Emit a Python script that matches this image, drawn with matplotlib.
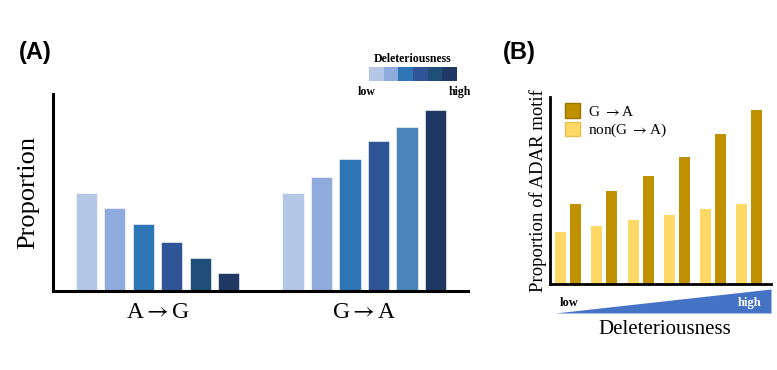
import matplotlib
matplotlib.use('Agg')
import matplotlib.pyplot as plt
import numpy as np
from matplotlib.patches import Patch

plt.rcParams['mathtext.fontset'] = 'stix'

# ---- data ----
groups_a = [r'A$\rightarrow$G', r'G$\rightarrow$A']
ag_vals = [0.50, 0.42, 0.34, 0.25, 0.17, 0.09]
ga_vals = [0.50, 0.58, 0.67, 0.76, 0.83, 0.92]
ag_colors = ['#b4c7e7', '#8faadc', '#2e75b6', '#2f5597', '#1f4e79', '#203864']
ga_colors = ['#b4c7e7', '#8faadc', '#2e75b6', '#2f5597', '#4a84b8', '#203864']
scale_colors = ['#b4c7e7', '#8faadc', '#2e75b6', '#2f5597', '#1f4e79', '#203864']

b_levels = [0, 1, 2, 3, 4, 5]
b_ga = [0.43, 0.50, 0.58, 0.68, 0.80, 0.93]
b_non = [0.28, 0.31, 0.34, 0.37, 0.40, 0.43]
b_labels = [r'G $\rightarrow$A', r'non(G $\rightarrow$A)']

W, H = 777, 370
fig = plt.figure(figsize=(W / 100, H / 100), dpi=100)
serif = ['Liberation Serif', 'DejaVu Serif']
sans = ['Liberation Sans', 'DejaVu Sans']


def box(x0, y0, x1, y1):
    # pixel box (top-left origin) -> figure rect
    return [x0 / W, 1 - y1 / H, (x1 - x0) / W, (y1 - y0) / H]


def fig_text(x, y, s, **kw):
    fig.text(x / W, 1 - y / H, s, **kw)


# ---- panel A ----
ax = fig.add_axes(box(53, 94, 468, 291))
x1 = np.arange(len(ag_vals))
x2 = np.arange(len(ga_vals)) + 7.25
ax.bar(x1, ag_vals, width=0.74, color=ag_colors, edgecolor='white', linewidth=0.4)
ax.bar(x2, ga_vals, width=0.74, color=ga_colors, edgecolor='white', linewidth=0.4)
ax.set_xlim(-1.17, 13.39)
ax.set_ylim(0, 1)
ax.set_xticks([x1.mean(), x2.mean()])
ax.set_xticklabels(groups_a, family=serif, fontsize=17)
ax.set_yticks([])
ax.tick_params(axis='x', length=0, pad=8)
for s in ['top', 'right']:
    ax.spines[s].set_visible(False)
for s in ['left', 'bottom']:
    ax.spines[s].set_linewidth(2.2)
ax.set_ylabel('Proportion', family=serif, fontsize=19, labelpad=10)

# colour scale legend
cax = fig.add_axes(box(369, 67, 457, 81))
cax.bar(np.arange(6), np.ones(6), width=1.0, color=scale_colors)
cax.set_xlim(-0.5, 5.5)
cax.set_ylim(0, 1)
cax.axis('off')
fig_text(413, 59, 'Deleteriousness', family=serif, fontsize=8.5, fontweight='bold',
         ha='center', va='center')
fig_text(367, 92, 'low', family=serif, fontsize=8.5, fontweight='bold', ha='center', va='center')
fig_text(460, 92, 'high', family=serif, fontsize=8.5, fontweight='bold', ha='center', va='center')

fig_text(35, 52, '(A)', family=sans, fontsize=17, fontweight='bold', ha='center', va='center')
fig_text(519, 52, '(B)', family=sans, fontsize=17, fontweight='bold', ha='center', va='center')

# ---- panel B ----
bx = fig.add_axes(box(550, 97, 771, 284))
lv = np.array(b_levels)
bx.bar(lv - 0.207, b_non, width=0.30, color='#ffd966')
bx.bar(lv + 0.207, b_ga, width=0.30, color='#bf9000')
bx.set_xlim(-0.5, 5.6)
bx.set_ylim(0, 1)
bx.set_xticks([])
bx.set_yticks([])
for s in ['top', 'right']:
    bx.spines[s].set_visible(False)
for s in ['left', 'bottom']:
    bx.spines[s].set_linewidth(2.0)
bx.set_ylabel('Proportion of ADAR motif', family=serif, fontsize=13.5, labelpad=2)
bx.legend([Patch(facecolor='#bf9000', edgecolor='#9a7400'),
           Patch(facecolor='#ffd966', edgecolor='#e6c050')], b_labels,
          loc='upper left', bbox_to_anchor=(0.04, 1.0), frameon=False,
          prop={'family': serif, 'size': 11}, handlelength=1.0, handleheight=1.1,
          handletextpad=0.5, labelspacing=0.2, borderaxespad=0.0)

# gradient wedge under panel B
tax = fig.add_axes(box(555, 289, 771, 313))
tx = np.array([0.0, 1.0])
tax.fill_between(tx, 0, tx, color='#4472c4', linewidth=0)
tax.set_xlim(0, 1)
tax.set_ylim(0, 1)
tax.axis('off')
fig_text(569, 303, 'low', family=serif, fontsize=9, fontweight='bold', ha='center', va='center')
fig_text(750, 303, 'high', family=serif, fontsize=9, fontweight='bold', color='white',
         ha='center', va='center')
fig_text(665, 329, 'Deleteriousness', family=serif, fontsize=15, ha='center', va='center')

fig.savefig('out.png', dpi=100)
